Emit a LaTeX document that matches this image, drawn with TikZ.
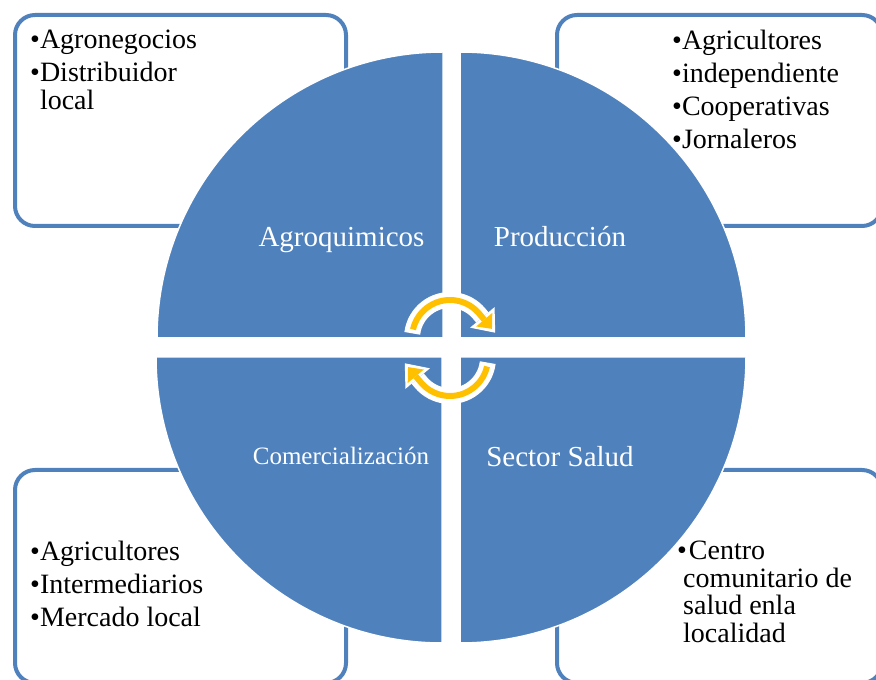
\documentclass[tikz,border=0pt]{standalone}
\usepackage{fontspec}
\setmainfont{Liberation Serif}
\usepackage{xcolor}
\usetikzlibrary{positioning,arrows.meta}
\definecolor{quadblue}{HTML}{4F81BD}
\definecolor{cycleyellow}{HTML}{FFC000}
\tikzstyle{listbox} = [draw=quadblue, line width=4pt, fill=white, rectangle, rounded corners=20pt]
\tikzstyle{quad} = [fill=quadblue, draw=white, line width=1.5pt]
\tikzstyle{quadlabel} = [text=white, font=\fontsize{29}{34}\selectfont, inner sep=0pt, anchor=base]
\tikzstyle{items} = [align=left, font=\fontsize{28}{27.5}\selectfont, inner sep=0pt, anchor=north west]
\tikzstyle{cyclewhite} = [draw=white, line width=16pt, -{Triangle[length=20pt, width=32pt, line width=0pt]}]
\tikzstyle{cycleline} = [draw=cycleyellow, line width=6pt, -{Triangle[length=12pt, width=21pt, line width=0pt]}]

\begin{document}
\begin{tikzpicture}[x=1pt, y=1pt]
		\useasboundingbox (0,0) rectangle (876,680);
		\clip (0,0) rectangle (876,680);
		\node [listbox, minimum width=331pt, minimum height=211pt] (agrobox) at (180.5,559.5) {};
		\node [listbox, minimum width=325pt, minimum height=211pt] (prodbox) at (719.5,559.5) {};
		\node [listbox, minimum width=331pt, minimum height=213pt] (comebox) at (180.5,103.5) {};
		\node [listbox, minimum width=325pt, minimum height=213pt] (saludbox) at (719.5,103.5) {};
		
		\path [quad] (443,342) -- (157,342) arc[start angle=180, end angle=90, radius=286] -- cycle;
		\path [quad] (460,342) -- (460,628) arc[start angle=90, end angle=0, radius=286] -- cycle;
		\path [quad] (442,323) -- (156,323) arc[start angle=180, end angle=270, radius=286] -- cycle;
		\path [quad] (460,323) -- (746,323) arc[start angle=0, end angle=-90, radius=286] -- cycle;
		
		\node [quadlabel] (agro1) at (341.5,433) {Agroquimicos};
		\node [quadlabel] (prod1) at (560,433) {Producción};
		\node [quadlabel, font=\fontsize{25}{30}\selectfont] (come1) at (341,215) {Comercialización};
		\node [quadlabel] (salud1) at (560,213) {Sector Salud};
		
		\node [items] (agrolist) at (30,650) {•Agronegocios\\[5.5pt]•Distribuidor\\\phantom{•}local};
		\node [items] (prodlist) at (672,650) {•Agricultores\\[5.5pt]•independiente\\[5.5pt]•Cooperativas\\[5.5pt]•Jornaleros};
		\node [items] (comelist) at (30,139) {•Agricultores\\[5.5pt]•Intermediarios\\[5.5pt]•Mercado local};
		\node [items] (saludlist) at (677,139) {•\hspace{2pt}Centro\\\hspace*{6pt}comunitario de\\\hspace*{6pt}salud enla\\\hspace*{6pt}localidad};
		
		\coordinate (hubtop) at (450,342);
		\coordinate (hubbot) at (450,322);
		\draw [cyclewhite] ([shift={(173:38)}]hubtop) arc[start angle=173, end angle=40, radius=38] -- ++(-50:25);
		\draw [cycleline] ([shift={(167:38)}]hubtop) arc[start angle=167, end angle=40, radius=38] -- ++(-50:20);
		\draw [cyclewhite] ([shift={(-7:38)}]hubbot) arc[start angle=-7, end angle=-140, radius=38] -- ++(130:25);
		\draw [cycleline] ([shift={(-13:38)}]hubbot) arc[start angle=-13, end angle=-140, radius=38] -- ++(130:20);
	\end{tikzpicture}
\end{document}
